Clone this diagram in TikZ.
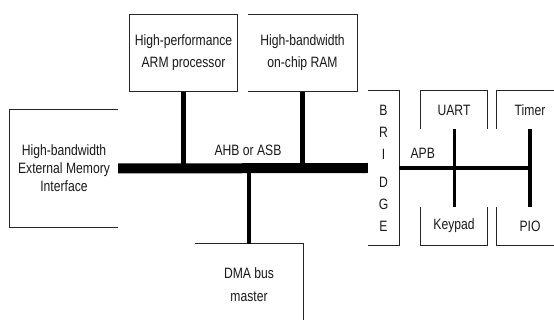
\documentclass[tikz,border=0pt]{standalone}
\usepackage{fontspec}
\setmainfont{Liberation Sans}[FakeStretch=0.81]
\begin{document}
\begin{tikzpicture}[x=1pt,y=-1pt,
  blk/.style={inner sep=0pt, align=center, font=\fontsize{15}{22}\selectfont, text=black!90},
  lbl/.style={font=\fontsize{15}{18}\selectfont, text=black!90},
  edge/.style={line width=1.2pt, black!85},
  ahb/.style={line width=10pt, black},
  tap/.style={line width=4.5pt, black},
  apb/.style={line width=4.5pt, black},
  thin/.style={line width=3pt, black}]
\useasboundingbox (0,0) rectangle (554,320);
\fill[white] (0,0) rectangle (554,320);
% nodes
\node[blk, minimum width=107pt, minimum height=77pt] (arm) at (183.5,53) {High-performance\\ARM processor};
\node[blk, minimum width=109pt, minimum height=77pt] (ram) at (302.5,53) {High-bandwidth\\on-chip RAM};
\node[blk, minimum width=108pt, minimum height=117pt, font=\fontsize{15}{18}\selectfont] (ext) at (64,168.5) {High-bandwidth\\External Memory\\Interface};
\node[blk, minimum width=108pt, minimum height=81pt, font=\fontsize{15}{23}\selectfont] (dma) at (249,284.5) {DMA bus\\master};
\node[blk, minimum width=31pt, minimum height=154pt] (bridge) at (383.5,168) {B\\R\\I\\[6pt]D\\G\\E};
\node[blk, minimum width=66pt, minimum height=38pt] (uart) at (454,110) {UART};
\node[blk, minimum width=66pt, minimum height=38pt] (timer) at (530,110) {Timer};
\node[blk, minimum width=66pt, minimum height=38pt] (keypad) at (454,226) {Keypad};
\node[blk, minimum width=66pt, minimum height=38pt] (pio) at (530,226) {PIO};
% box outlines (partial, as in the reference)
\draw[edge] (arm.north west) rectangle (arm.south east);
\draw[edge] (ram.north west) -- (ram.north east) -- (ram.south east) -- (ram.south west);
\draw[edge] (ext.north east) -- (ext.north west) -- (ext.south west) -- (ext.south east);
\draw[edge] (dma.north west) -- (dma.north east) -- (dma.south east);
\draw[edge] (bridge.north west) -- (bridge.north east) -- (bridge.south east) -- (bridge.south west);
\draw[edge] (uart.south west) -- (uart.north west) -- (uart.north east) -- (uart.south east);
\draw[edge] (timer.south west) -- (timer.north west) -- (timer.north east);
\draw[edge] (keypad.north west) -- (keypad.south west) -- (keypad.south east) -- (keypad.north east);
\draw[edge] (pio.north west) -- (pio.south west) -- (pio.south east);
% AHB bus
\coordinate (ahbL) at (ext.east);
\coordinate (ahbR) at (bridge.west);
\draw[tap] (arm.south) -- (arm.south |- ahbL);
\draw[tap] (ram.south) -- (ram.south |- ahbL);
\draw[tap] (dma.north) -- (dma.north |- ahbL);
\draw[ahb] (ahbL) -- node[pos=0.52, yshift=18pt, lbl] (ahblabel) {AHB or ASB} (ahbR);
% APB bus
\coordinate (apbR) at (timer.south |- bridge.east);
\draw[apb] (bridge.east) -- node[pos=0.18, yshift=15pt, lbl] (apblabel) {APB} (apbR);
\draw[thin] (uart.south) -- (keypad.north);
\draw[line width=4pt] (timer.south) -- (pio.north);
\end{tikzpicture}
\end{document}
